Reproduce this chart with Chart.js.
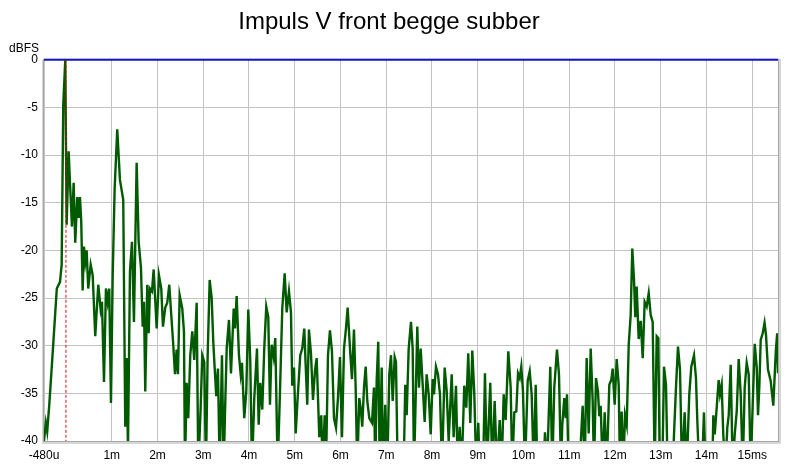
<!DOCTYPE html>
<html>
<head>
<meta charset="utf-8">
<script src="https://cdn.jsdelivr.net/npm/chart.js@4.4.1/dist/chart.umd.min.js"></script>
<style>
  html, body { margin: 0; padding: 0; background: #ffffff; }
  #wrap { width: 800px; height: 466px; position: relative; }
</style>
</head>
<body>
<div id="wrap"><canvas id="c" width="800" height="466"></canvas></div>
<script>
// ---- data (time in ms, level in dBFS) ----
const chartTitle = "Impuls V front begge subber";
const yUnit = "dBFS";
const xTickValues = [-0.48, 1, 2, 3, 4, 5, 6, 7, 8, 9, 10, 11, 12, 13, 14, 15];
const xTickLabels = ["-480u", "1m", "2m", "3m", "4m", "5m", "6m", "7m", "8m", "9m", "10m", "11m", "12m", "13m", "14m", "15ms"];
const xRange = [-0.48, 15.563];
const yRange = [-40, 0];
const markerTime = [0, 0];
const markerLevel = [0, -40];
const refTime = [-0.48, 15.563];
const refLevel = [0, 0];

const times = [
-0.48,-0.44,-0.41,-0.365,-0.28,-0.20,-0.13,-0.094,-0.059,-0.015,
0.015,0.059,0.087,0.131,0.168,0.203,0.247,0.278,0.306,0.334,
0.365,0.393,0.422,0.452,0.487,0.540,0.584,0.640,0.706,0.758,
0.787,0.831,0.874,0.911,0.946,0.984,1.021,1.064,1.121,1.180,
1.252,1.296,1.327,1.355,1.399,1.443,1.486,1.545,1.589,1.639,
1.677,1.705,1.733,1.777,1.808,1.836,1.880,1.917,1.983,2.033,
2.083,2.120,2.170,2.214,2.258,2.302,2.345,2.383,2.419,2.448,
2.485,2.542,2.579,2.601,2.638,2.673,2.717,2.761,2.804,2.857,
2.892,2.944,2.979,3.023,3.060,3.097,3.141,3.185,3.220,3.250,
3.285,3.322,3.360,3.410,3.447,3.475,3.513,3.563,3.607,3.666,
3.694,3.731,3.781,3.819,3.847,3.897,3.941,3.985,4.028,4.066,
4.116,4.175,4.212,4.247,4.291,4.334,4.378,4.422,4.459,4.496,
4.540,4.575,4.627,4.678,4.728,4.780,4.824,4.874,4.918,4.946,
4.984,5.021,5.064,5.121,5.165,5.209,5.239,5.274,5.311,5.355,
5.399,5.443,5.480,5.537,5.580,5.611,5.655,5.683,5.727,5.770,
5.814,5.858,5.902,5.945,5.989,6.033,6.077,6.120,6.157,6.208,
6.251,6.295,6.332,6.367,6.411,6.441,6.476,6.514,6.551,6.586,
6.630,6.689,6.732,6.761,6.791,6.826,6.857,6.901,6.929,6.979,
7.023,7.067,7.104,7.141,7.185,7.213,7.257,7.373,7.416,7.447,
7.491,7.541,7.578,7.607,7.644,7.679,7.716,7.753,7.797,7.840,
7.884,7.928,7.972,8.015,8.044,8.087,8.131,8.175,8.219,8.277,
8.321,8.365,8.431,8.474,8.525,8.562,8.605,8.649,8.706,8.750,
8.793,8.837,8.881,8.925,8.968,9.012,9.056,9.110,9.158,9.202,
9.274,9.318,9.370,9.421,9.480,9.523,9.567,9.611,9.668,9.720,
9.755,9.799,9.843,9.880,9.917,9.952,9.989,10.033,10.092,10.136,
10.179,10.223,10.267,10.310,10.420,10.470,10.514,10.586,10.630,10.673,
10.732,10.776,10.820,10.848,10.892,10.923,10.951,10.995,11.200,11.294,
11.337,11.381,11.425,11.469,11.512,11.541,11.585,11.628,11.657,11.687,
11.731,11.775,11.819,11.876,11.919,11.950,11.993,12.037,12.081,12.109,
12.146,12.181,12.219,12.256,12.300,12.343,12.378,12.415,12.444,12.474,
12.518,12.562,12.606,12.649,12.693,12.737,12.781,12.824,12.868,12.912,
12.947,12.984,13.028,13.071,13.115,13.158,13.246,13.290,13.333,13.377,
13.421,13.464,13.523,13.567,13.624,13.668,13.727,13.770,13.799,13.843,
13.902,13.945,13.989,14.120,14.149,14.180,14.223,14.266,14.295,14.332,
14.367,14.411,14.455,14.486,14.529,14.573,14.617,14.661,14.704,14.748,
14.792,14.835,14.879,14.923,14.966,15.010,15.054,15.098,15.126,15.154,
15.185,15.229,15.269,15.301,15.344,15.403,15.460,15.515,15.545,15.563
];
const levels = [
-40,-38.1,-39,-36.2,-30,-24,-23.3,-21.5,-4.7,0,
-17.3,-9.6,-12.8,-17.5,-12.9,-19.2,-14.4,-16.6,-14.4,-17,
-24.2,-19.6,-21.2,-20,-24,-21.5,-22.6,-29,-23.6,-26.2,
-25.4,-33.8,-24,-25.4,-24,-36,-22.7,-13.5,-7.3,-12.6,
-14.7,-38.5,-31.3,-41,-22.2,-19.1,-27.5,-10.8,-19.1,-21.8,
-28,-25.4,-34.8,-23.6,-28.7,-24,-24.3,-22,-28.2,-22.6,
-24,-28,-26,-25.5,-23.6,-26.8,-29.9,-33,-30.4,-33,
-24.7,-26.1,-28.5,-43,-33.9,-37.6,-31,-28.5,-31.5,-25.5,
-43,-36.5,-31,-31.7,-43,-31,-23.1,-25,-29.6,-32.3,
-35.3,-32.4,-43,-31,-43,-37.3,-30.3,-27.3,-32.9,-26.1,
-28.2,-24.8,-31,-33,-31.8,-37.6,-34.8,-26.2,-31.5,-43,
-35.5,-30.3,-38.3,-33.9,-36.7,-30.3,-25.9,-27,-36.2,-29.9,
-31.2,-29.2,-43,-34.8,-26.1,-22.4,-26.5,-24.3,-26.5,-34.2,
-32.3,-39.2,-35.5,-31,-30.3,-28.2,-32,-36.2,-28.3,-30.8,
-35.7,-32.6,-31.3,-39.6,-37.3,-43,-37.3,-43,-31,-28.4,
-30.6,-37.6,-38.6,-35.5,-31.2,-39.6,-30.3,-28.2,-26,-30.3,
-33.5,-28.3,-34.4,-43,-35.5,-36.5,-38.5,-34.4,-32.2,-35.8,
-37.6,-38.1,-34.4,-43,-33.7,-29.6,-43,-32.3,-43,-36.2,
-43,-33,-31,-35.8,-31.2,-31.7,-45,-45,-34.1,-37.3,
-30.3,-27.5,-30.3,-43,-35.5,-28,-34.4,-30.3,-34.1,-38,
-33,-35.1,-39.3,-33.5,-35.1,-32.2,-33,-35.1,-43,-32.3,
-34.7,-40,-33,-39.6,-34.2,-43,-38.5,-43,-34.2,-36.5,
-30.8,-38.1,-30.5,-35.1,-43,-38.1,-45,-45,-32.9,-43,
-33.9,-43,-35.8,-43,-37.8,-43,-35.1,-37.8,-30.6,-34.4,
-43,-37,-36.9,-32.9,-33.4,-32.2,-34.8,-43,-33.7,-32.7,
-35.1,-43,-34.1,-45,-45,-39.1,-43,-32.2,-43,-34.4,
-30.4,-33,-43,-38.3,-35.5,-37.6,-35.1,-45,-45,-36.3,
-43,-31.3,-39.2,-30.3,-35.8,-43,-33.4,-34.8,-37.4,-36.3,
-43,-37,-43,-34.1,-33.6,-32.4,-36.2,-31.4,-34.1,-43,
-36.9,-43,-37.3,-38.3,-29.9,-26.8,-19.8,-23,-27,-23.8,
-29.3,-27.4,-31.3,-25.4,-25.9,-24.5,-26.8,-27.5,-43,-29,
-29.2,-45,-45,-32.2,-34.1,-45,-45,-39.3,-34.4,-30.1,
-32.5,-43,-37,-43,-35.1,-32.2,-31,-33.4,-37.8,-43,
-43,-37,-45,-45,-37.3,-39.3,-36.5,-33.6,-35.1,-34.1,
-39.3,-43,-38.6,-37.3,-32,-43,-39.3,-36.9,-31.4,-35.1,
-43,-34.4,-31.8,-33,-43,-36.2,-29.8,-32.3,-37.3,-34.4,
-29.4,-28.7,-27.6,-28.9,-32.5,-33.7,-36.3,-30.6,-28.7,-32.9
];

const FONT = "'Liberation Sans', Arial, sans-serif";

function pairs(xs, ys) { return xs.map((x, i) => ({ x: x, y: ys[i] })); }

const framePlugin = {
  id: 'frame',
  beforeDatasetsDraw(chart) {
    const a = chart.chartArea, ctx = chart.ctx;
    ctx.save();
    // outer light band (3D-ish frame)
    ctx.fillStyle = '#d6d6d6';
    ctx.fillRect(a.left - 2, a.top, 2, a.bottom - a.top + 2);
    ctx.fillRect(a.left - 2, a.bottom, a.right - a.left + 5, 3);
    ctx.fillRect(a.right, a.top - 1, 3, a.bottom - a.top + 3);
    ctx.strokeStyle = '#a8a8a8';
    ctx.lineWidth = 1;
    ctx.strokeRect(a.left - 0.5, a.top - 0.5, a.right - a.left + 1, a.bottom - a.top + 1);
    ctx.restore();
  },
  afterDraw(chart) {
    const a = chart.chartArea, ctx = chart.ctx;
    ctx.save();
    ctx.fillStyle = '#000';
    ctx.font = '12px ' + FONT;
    ctx.textAlign = 'right';
    ctx.textBaseline = 'middle';
    ctx.fillText(yUnit, a.left - 5, a.top - 11);
    ctx.restore();
  }
};

new Chart(document.getElementById('c'), {
  type: 'line',
  data: {
    datasets: [
      {
        label: 'ref',
        data: pairs(refTime, refLevel),
        borderColor: '#1414c8',
        borderWidth: 2,
        pointRadius: 0,
        clip: false,
        order: 3
      },
      {
        label: 'impulse',
        data: pairs(times, levels),
        borderColor: '#005a00',
        borderWidth: 2.4,
        pointRadius: 0,
        tension: 0,
        order: 2
      },
      {
        label: 'marker',
        data: pairs(markerTime, markerLevel),
        borderColor: '#cc1010',
        borderWidth: 1,
        borderDash: [3, 2],
        pointRadius: 0,
        order: 1
      }
    ]
  },
  options: {
    responsive: false,
    animation: false,
    devicePixelRatio: 1,
    layout: { padding: { left: 0, right: 22, top: 0, bottom: 0 } },
    plugins: {
      legend: { display: false },
      tooltip: { enabled: false },
      title: {
        display: true,
        text: chartTitle,
        color: '#000',
        font: { family: FONT, size: 24, weight: 'normal' },
        padding: { top: 8, bottom: 23 }
      }
    },
    scales: {
      x: {
        type: 'linear',
        min: xRange[0],
        max: xRange[1],
        afterBuildTicks(scale) {
          scale.ticks = xTickValues.map(v => ({ value: v }));
        },
        afterFit(scale) { scale.height = 25; },
        ticks: {
          autoSkip: false,
          maxRotation: 0,
          color: '#000',
          padding: 7,
          font: { family: FONT, size: 12 },
          callback: (v, i) => xTickLabels[i]
        },
        grid: { color: '#c3c3c3', lineWidth: 1, drawTicks: false, tickLength: 0 },
        border: { display: false }
      },
      y: {
        type: 'linear',
        min: yRange[0],
        max: yRange[1],
        afterFit(scale) { scale.width = 44; },
        ticks: {
          stepSize: 5,
          color: '#000',
          padding: 6,
          font: { family: FONT, size: 12 }
        },
        grid: { color: '#c3c3c3', lineWidth: 1, drawTicks: false, tickLength: 0 },
        border: { display: false }
      }
    }
  },
  plugins: [framePlugin]
});
</script>
</body>
</html>
